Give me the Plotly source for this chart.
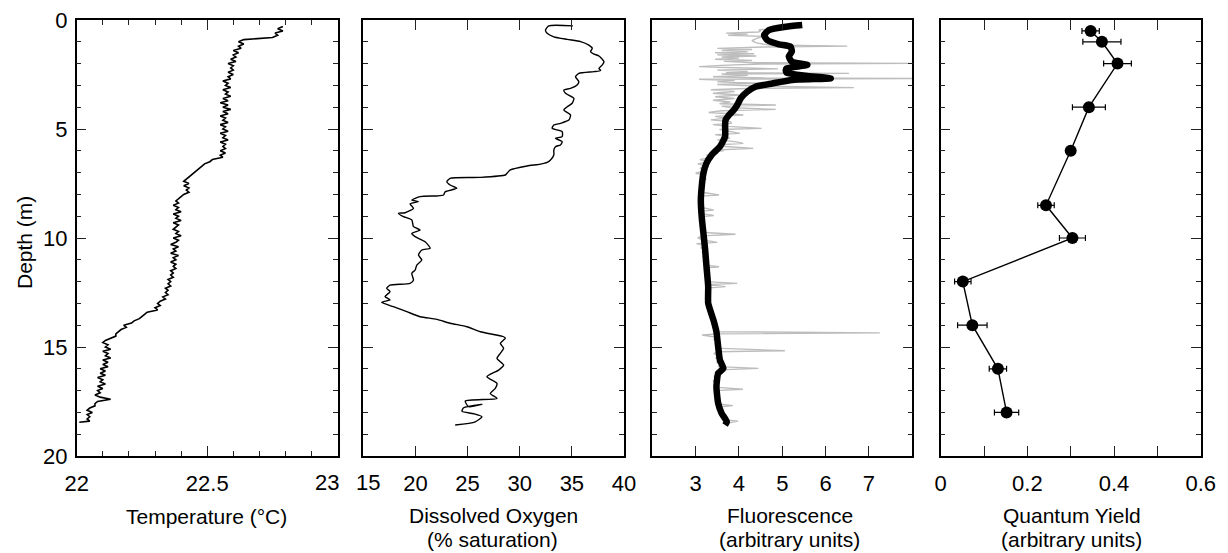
import plotly.graph_objects as go

FONT = "Liberation Sans, Arial, Helvetica, sans-serif"
W, H = 1228, 553

# ---------------- Temperature profile (°C vs depth, m) ----------------
temp_depth = [
    0.3, 0.4, 0.5, 0.6, 0.7, 0.8, 0.9, 1.0, 1.1, 1.2, 1.3, 1.4, 1.5, 1.6, 1.7, 1.8, 1.9,
    2.0, 2.1, 2.2, 2.3, 2.4, 2.5, 2.6, 2.7, 2.8, 2.9, 3.0, 3.1, 3.2, 3.3, 3.4, 3.5, 3.6,
    3.7, 3.8, 3.9, 4.0, 4.1, 4.2, 4.3, 4.4, 4.5, 4.6, 4.7, 4.8, 4.9, 5.0, 5.1, 5.2, 5.3,
    5.4, 5.5, 5.6, 5.7, 5.8, 5.9, 6.0, 6.1, 6.2, 6.3, 6.4, 6.5, 6.6, 6.7, 6.8, 6.9, 7.0,
    7.1, 7.2, 7.3, 7.4, 7.5, 7.6, 7.7, 7.8, 7.9, 8.0, 8.1, 8.2, 8.3, 8.4, 8.5, 8.6, 8.7,
    8.8, 8.9, 9.0, 9.1, 9.2, 9.3, 9.4, 9.5, 9.6, 9.7, 9.8, 9.9, 10.0, 10.1, 10.2, 10.3,
    10.4, 10.5, 10.6, 10.7, 10.8, 10.9, 11.0, 11.1, 11.2, 11.3, 11.4, 11.5, 11.6, 11.7,
    11.8, 11.9, 12.0, 12.1, 12.2, 12.3, 12.4, 12.5, 12.6, 12.7, 12.8, 12.9, 13.0, 13.1,
    13.2, 13.3, 13.4, 13.5, 13.6, 13.7, 13.8, 13.9, 14.0, 14.1, 14.2, 14.3, 14.4, 14.5,
    14.6, 14.7, 14.8, 14.9, 15.0, 15.1, 15.2, 15.3, 15.4, 15.5, 15.6, 15.7, 15.8, 15.9,
    16.0, 16.1, 16.2, 16.3, 16.4, 16.5, 16.6, 16.7, 16.8, 16.9, 17.0, 17.1, 17.2, 17.3,
    17.4, 17.5, 17.6, 17.7, 17.8, 17.9, 18.0, 18.1, 18.2, 18.3, 18.4, 18.45,
]
temp_c = [
    22.79, 22.77, 22.79, 22.76, 22.77, 22.75, 22.64, 22.62, 22.64, 22.62, 22.63, 22.60,
    22.62, 22.60, 22.61, 22.59, 22.61, 22.58, 22.60, 22.59, 22.60, 22.58, 22.60, 22.58,
    22.59, 22.56, 22.58, 22.57, 22.59, 22.56, 22.58, 22.57, 22.59, 22.56, 22.58, 22.55,
    22.58, 22.56, 22.59, 22.56, 22.58, 22.55, 22.57, 22.56, 22.58, 22.55, 22.57, 22.56,
    22.58, 22.55, 22.57, 22.56, 22.58, 22.55, 22.57, 22.56, 22.57, 22.55, 22.57, 22.55,
    22.56, 22.52, 22.51, 22.49, 22.48, 22.47, 22.46, 22.45, 22.44, 22.43, 22.42, 22.41,
    22.43, 22.41, 22.43, 22.42, 22.43, 22.41, 22.40, 22.39, 22.38, 22.39, 22.37, 22.39,
    22.38, 22.40, 22.37, 22.39, 22.38, 22.40, 22.37, 22.39, 22.38, 22.37, 22.39, 22.38,
    22.40, 22.37, 22.39, 22.38, 22.36, 22.39, 22.37, 22.38, 22.36, 22.39, 22.37, 22.38,
    22.36, 22.38, 22.37, 22.38, 22.36, 22.37, 22.36, 22.37, 22.35, 22.36, 22.35, 22.36,
    22.34, 22.35, 22.34, 22.35, 22.33, 22.34, 22.32, 22.31, 22.32, 22.30, 22.31, 22.27,
    22.26, 22.25, 22.24, 22.22, 22.21, 22.18, 22.19, 22.17, 22.16, 22.15, 22.15, 22.13,
    22.11, 22.10, 22.12, 22.11, 22.13, 22.10, 22.12, 22.11, 22.13, 22.10, 22.12, 22.10,
    22.12, 22.09, 22.11, 22.09, 22.11, 22.08, 22.10, 22.09, 22.11, 22.08, 22.10, 22.08,
    22.09, 22.07, 22.09, 22.13, 22.08, 22.07, 22.07, 22.05, 22.04, 22.06, 22.04, 22.05,
    22.04, 22.05, 22.01,
]

# ---------------- Dissolved oxygen profile (% saturation) ----------------
do_depth = [
    0.27, 0.27, 0.46, 0.61, 0.77, 0.89, 0.99, 1.15, 1.30, 1.45, 1.56, 1.65, 1.91, 2.06,
    2.22, 2.32, 2.37, 2.45, 2.60, 2.83, 2.98, 3.14, 3.21, 3.36, 3.59, 3.82, 3.98, 4.13,
    4.36, 4.59, 4.74, 4.82, 4.97, 5.12, 5.35, 5.43, 5.58, 5.73, 5.81, 5.96, 6.19, 6.42,
    6.53, 6.61, 6.70, 6.88, 7.03, 7.11, 7.22, 7.26, 7.42, 7.57, 7.72, 7.88, 8.03, 8.07,
    8.10, 8.26, 8.33, 8.44, 8.64, 8.84, 8.87, 9.02, 9.17, 9.48, 9.63, 9.79, 9.94, 10.17,
    10.47, 10.55, 10.78, 11.01, 11.24, 11.47, 11.62, 11.93, 12.08, 12.16, 12.31, 12.46,
    12.69, 12.84, 12.95, 13.15, 13.38, 13.61, 13.73, 13.91, 14.07, 14.30, 14.53, 14.60,
    14.83, 15.06, 15.29, 15.52, 15.83, 16.06, 16.36, 16.67, 16.90, 17.13, 17.36, 17.48,
    17.74, 17.63, 17.79, 17.95, 18.06, 18.20, 18.43, 18.58,
]
do_sat = [
    35.10, 32.79, 32.47, 32.63, 33.27, 34.55, 35.83, 36.63, 36.96, 36.79, 37.12, 37.60,
    38.08, 37.92, 37.60, 37.76, 37.12, 35.67, 35.35, 35.67, 35.51, 34.87, 34.23, 34.39,
    35.19, 35.03, 34.55, 34.23, 34.87, 34.71, 33.91, 33.27, 33.11, 34.07, 34.07, 33.43,
    34.07, 33.91, 33.43, 33.27, 33.27, 32.95, 32.63, 31.99, 30.71, 29.10, 28.78, 28.62,
    26.22, 23.33, 23.01, 23.33, 23.97, 22.85, 22.69, 22.05, 20.45, 19.65, 20.29, 19.49,
    19.81, 19.01, 18.37, 18.85, 19.65, 19.81, 20.45, 19.65, 19.97, 20.93, 21.41, 20.61,
    20.29, 20.61, 20.13, 19.97, 19.65, 19.81, 19.49, 17.56, 17.24, 17.56, 17.08, 17.56,
    16.76, 17.88, 19.17, 20.45, 22.05, 23.33, 24.94, 26.22, 28.46, 28.62, 28.14, 28.46,
    28.14, 27.82, 28.46, 27.98, 26.86, 27.82, 27.66, 27.18, 27.82, 24.78, 25.10, 26.38,
    24.62, 24.46, 25.58, 26.38, 25.74, 23.81,
]

# ---------------- Fluorescence (raw and smoothed) ----------------
fl_raw_depth = [
    0.40, 0.45, 0.50, 0.55, 0.60, 0.65, 0.70, 0.75, 0.85, 0.95, 1.05, 1.15, 1.20, 1.24,
    1.30, 1.35, 1.40, 1.45, 1.50, 1.55, 1.60, 1.65, 1.70, 1.75, 1.80, 1.85, 1.90, 1.96,
    1.99, 2.02, 2.08, 2.14, 2.18, 2.24, 2.30, 2.36, 2.42, 2.45, 2.48, 2.54, 2.60, 2.66,
    2.68, 2.70, 2.72, 2.78, 2.84, 2.90, 2.96, 3.04, 3.10, 3.14, 3.20, 3.28, 3.36, 3.44,
    3.52, 3.60, 3.68, 3.76, 3.84, 3.90, 3.95, 4.02, 4.10, 4.16, 4.24, 4.30, 4.36, 4.42,
    4.50, 4.58, 4.66, 4.74, 4.80, 4.88, 4.97, 5.02, 5.10, 5.20, 5.26, 5.34, 5.43, 5.50,
    5.58, 5.66, 5.72, 5.80, 5.89, 5.95, 6.00, 6.06, 6.12, 6.20, 6.30, 6.40, 6.50, 6.60,
    6.70, 6.80, 6.90, 7.03, 7.10, 7.20, 7.30, 7.40, 7.50, 7.60, 7.70, 7.80, 7.90, 8.03,
    8.08, 8.20, 8.30, 8.40, 8.50, 8.60, 8.72, 8.78, 8.88, 8.97, 9.03, 9.15, 9.25, 9.35,
    9.45, 9.55, 9.65, 9.75, 9.83, 9.90, 10.00, 10.10, 10.20, 10.26, 10.35, 10.45, 10.55,
    10.65, 10.75, 10.85, 10.95, 11.05, 11.15, 11.25, 11.32, 11.38, 11.50, 11.60, 11.70,
    11.80, 11.90, 12.00, 12.08, 12.14, 12.23, 12.30, 12.40, 12.50, 12.60, 12.70, 12.80,
    12.90, 13.00, 13.10, 13.20, 13.30, 13.40, 13.50, 13.60, 13.70, 13.80, 13.90, 14.00,
    14.10, 14.20, 14.30, 14.35, 14.40, 14.45, 14.55, 14.65, 14.75, 14.85, 14.95, 15.05,
    15.17, 15.22, 15.30, 15.40, 15.50, 15.60, 15.70, 15.80, 15.90, 15.98, 16.05, 16.15,
    16.25, 16.35, 16.45, 16.55, 16.65, 16.75, 16.85, 16.94, 17.00, 17.10, 17.20, 17.30,
    17.40, 17.50, 17.60, 17.69, 17.75, 17.85, 17.95, 18.05, 18.15, 18.25, 18.34, 18.40,
    18.50, 18.58,
]
fl_raw = [
    4.85, 4.46, 4.50, 4.45, 3.70, 4.20, 3.75, 4.55, 4.40, 4.30, 4.40, 4.70, 6.50, 4.60,
    3.50, 4.30, 3.60, 4.20, 3.45, 4.35, 3.50, 4.40, 3.60, 4.00, 3.45, 4.30, 3.65, 4.40,
    8.20, 4.50, 3.60, 3.08, 3.70, 4.90, 3.50, 4.20, 3.70, 6.54, 3.60, 4.20, 3.40, 4.60,
    8.20, 4.70, 3.08, 3.90, 3.50, 4.50, 3.50, 4.60, 6.65, 4.20, 3.35, 3.90, 3.40, 4.00,
    3.45, 3.90, 3.40, 3.80, 3.55, 4.85, 3.60, 3.80, 4.85, 3.60, 3.30, 3.80, 4.10, 3.45,
    3.70, 3.35, 3.80, 3.83, 3.40, 3.75, 4.52, 3.55, 3.80, 4.02, 3.45, 3.70, 3.79, 3.50,
    3.90, 4.10, 3.55, 3.70, 4.33, 3.60, 3.64, 3.35, 3.52, 3.25, 3.40, 3.10, 3.30, 3.05,
    3.25, 3.10, 3.22, 3.00, 3.20, 3.10, 3.25, 3.08, 3.18, 3.10, 3.20, 3.08, 3.15, 3.54,
    3.10, 3.15, 3.08, 3.16, 3.06, 3.15, 3.42, 3.10, 3.15, 3.42, 3.10, 3.18, 3.08, 3.17,
    3.10, 3.20, 3.12, 3.20, 3.92, 3.15, 3.05, 3.20, 3.50, 3.02, 3.20, 3.12, 3.24,
    3.15, 3.25, 3.16, 3.26, 3.18, 3.27, 3.20, 3.54, 3.22, 3.28, 3.20, 3.30,
    3.22, 3.30, 3.24, 3.96, 3.25, 3.69, 3.24, 3.32, 3.22, 3.30, 3.24, 3.34,
    3.26, 3.33, 3.27, 3.36, 3.30, 3.38, 3.32, 3.42, 3.35, 3.44, 3.38, 3.46,
    3.40, 3.48, 3.45, 7.25, 3.50, 3.15, 3.48, 3.42, 3.52, 3.44, 3.55, 3.46,
    5.06, 3.50, 3.42, 3.56, 3.46, 3.58, 3.48, 3.60, 3.52, 4.45, 3.55, 3.45,
    3.55, 3.42, 3.52, 3.40, 3.50, 3.42, 3.52, 4.09, 3.45, 3.54, 3.44, 3.55,
    3.46, 3.58, 3.48, 3.86, 3.52, 3.60, 3.54, 3.65, 3.58, 3.70, 3.66, 3.98,
    3.72, 3.68,
]
fl_smooth_depth = [
    0.23, 0.31, 0.46, 0.69, 0.92, 1.12, 1.22, 1.45, 1.68, 1.91, 2.06, 2.22, 2.30, 2.42,
    2.56, 2.68, 2.75, 2.91, 3.06, 3.29, 3.59, 3.90, 4.13, 4.36, 4.59, 4.89, 5.35, 5.81,
    6.19, 6.57, 7.03, 7.65, 8.26, 9.02, 9.79, 10.55, 11.30, 12.23, 12.99, 13.76, 14.30,
    14.99, 15.60, 15.98, 16.21, 16.82, 17.58, 18.04, 18.43, 18.58,
]
fl_smooth = [
    5.46, 5.08, 4.69, 4.58, 4.65, 4.92, 5.19, 5.22, 5.15, 5.22, 5.58, 5.10, 5.08, 5.10,
    5.54, 6.12, 5.23, 4.77, 4.38, 4.19, 4.04, 3.96, 3.88, 3.77, 3.69, 3.68, 3.68, 3.56,
    3.37, 3.25, 3.18, 3.14, 3.12, 3.14, 3.18, 3.22, 3.25, 3.29, 3.29, 3.41, 3.48,
    3.52, 3.56, 3.64, 3.52, 3.48, 3.52, 3.60, 3.72, 3.68,
]

# ---------------- Quantum yield (discrete samples with error) ----------------
qy_depth = [0.5, 1.0, 2.0, 4.0, 6.0, 8.5, 10.0, 12.0, 14.0, 16.0, 18.0]
qy_value = [0.346, 0.372, 0.408, 0.342, 0.300, 0.243, 0.304, 0.051, 0.073, 0.132, 0.152]
qy_error = [0.020, 0.044, 0.032, 0.038, 0.006, 0.019, 0.030, 0.019, 0.034, 0.020, 0.028]

# ---------------- Tick labels ----------------
# The end labels "23" and "15" meet between the first two panels; they are
# drawn as separate labels nudged apart so they do not collide.
temp_ticks = [22, 22.5, 23]
temp_ticktext = ["22", "22.5", ""]
do_ticks = [15, 20, 25, 30, 35, 40]
do_ticktext = ["", "20", "25", "30", "35", "40"]
fl_ticks = [3, 4, 5, 6, 7]
qy_ticks = [0, 0.2, 0.4, 0.6]
qy_ticktext = ["0", "0.2", "0.4", "0.6"]
edge_labels = [("23", 327.0), ("15", 367.5)]

# ---------------- Layout geometry (pixels) ----------------
panel_px = [(76.7, 337.7), (363.3, 624.0), (652.3, 912.3), (940.7, 1200.7)]
plot_top, plot_bottom = 20.0, 456.0
xtick_label_mid = 482.0


def fx(px):
    return px / W


def fy(py):
    return 1 - py / H


fig = go.Figure()

fig.add_trace(go.Scatter(x=temp_c, y=temp_depth, mode="lines",
                         line=dict(color="black", width=1.6), xaxis="x", yaxis="y"))
fig.add_trace(go.Scatter(x=do_sat, y=do_depth, mode="lines",
                         line=dict(color="black", width=1.4, shape="spline", smoothing=0.6),
                         xaxis="x2", yaxis="y2"))
fig.add_trace(go.Scatter(x=fl_raw, y=fl_raw_depth, mode="lines",
                         line=dict(color="#bdbdbd", width=1.4), xaxis="x3", yaxis="y3"))
fig.add_trace(go.Scatter(x=fl_smooth, y=fl_smooth_depth, mode="lines",
                         line=dict(color="black", width=6.5, shape="spline", smoothing=0.5),
                         xaxis="x3", yaxis="y3"))
fig.add_trace(go.Scatter(x=qy_value, y=qy_depth, mode="lines+markers",
                         line=dict(color="black", width=1.4),
                         marker=dict(color="black", size=12),
                         error_x=dict(type="data", array=qy_error, color="black",
                                      thickness=1.2, width=3),
                         xaxis="x4", yaxis="y4"))

tick_font = dict(family=FONT, size=22, color="black")
axis_common = dict(showline=True, linecolor="black", linewidth=1.5, mirror="ticks",
                   ticks="inside", ticklen=10, tickwidth=1.2, tickcolor="#222",
                   showgrid=False, zeroline=False, tickfont=tick_font, fixedrange=True,
                   automargin=False)
minor_short = dict(ticks="inside", ticklen=5, tickwidth=1.2, tickcolor="#222", showgrid=False)

x_specs = [
    dict(range=[22, 23], tickmode="array", tickvals=temp_ticks, ticktext=temp_ticktext,
         minor=dict(tick0=22, dtick=0.1, **minor_short)),
    dict(range=[15, 40], tickmode="array", tickvals=do_ticks, ticktext=do_ticktext),
    dict(range=[2, 8], tickmode="array", tickvals=fl_ticks),
    dict(range=[0, 0.6], tickmode="array", tickvals=qy_ticks, ticktext=qy_ticktext,
         minor=dict(tick0=0, dtick=0.1, ticks="inside", ticklen=10, tickwidth=1.2,
                    tickcolor="#222", showgrid=False)),
]

layout = dict(width=W, height=H, autosize=False,
              margin=dict(l=0, r=0, t=0, b=0, pad=0, autoexpand=False),
              paper_bgcolor="white", plot_bgcolor="white", showlegend=False)

for i, (x0, x1) in enumerate(panel_px):
    n = "" if i == 0 else str(i + 1)
    xa = dict(axis_common, domain=[fx(x0), fx(x1)], anchor="y" + n,
              ticklabelstandoff=7, **x_specs[i])
    ya = dict(axis_common, domain=[fy(plot_bottom), fy(plot_top)], anchor="x" + n,
              range=[20, 0], tickmode="linear", tick0=0, dtick=5,
              minor=dict(tick0=0, dtick=1, **minor_short),
              ticklabelstandoff=3, showticklabels=(i == 0))
    layout["xaxis" + n] = xa
    layout["yaxis" + n] = ya

fig.update_layout(**layout)

for text, px in edge_labels:
    fig.add_annotation(text=text, x=fx(px), y=fy(xtick_label_mid), xref="paper",
                       yref="paper", xanchor="center", yanchor="middle", showarrow=False,
                       borderpad=0, font=tick_font)

# Axis titles; second lines sit directly beneath the first
title_font = dict(family=FONT, size=21, color="black")
titles = [
    ("Temperature (°C)", 206.5, 516.0),
    ("Dissolved Oxygen", 493.0, 515.0),
    ("(% saturation)", 492.5, 539.0),
    ("Fluorescence", 790.0, 515.0),
    ("(arbitrary units)", 790.0, 539.0),
    ("Quantum Yield", 1072.0, 515.0),
    ("(arbitrary units)", 1071.0, 539.0),
]
for text, px, py in titles:
    fig.add_annotation(text=text, x=fx(px), y=fy(py), xref="paper", yref="paper",
                       xanchor="center", yanchor="middle", showarrow=False,
                       borderpad=0, font=title_font)

fig.add_annotation(text="Depth (m)", x=fx(24), y=fy(242), xref="paper", yref="paper",
                   xanchor="center", yanchor="middle", textangle=-90, showarrow=False,
                   borderpad=0, font=title_font)

fig.write_html("out.html")
